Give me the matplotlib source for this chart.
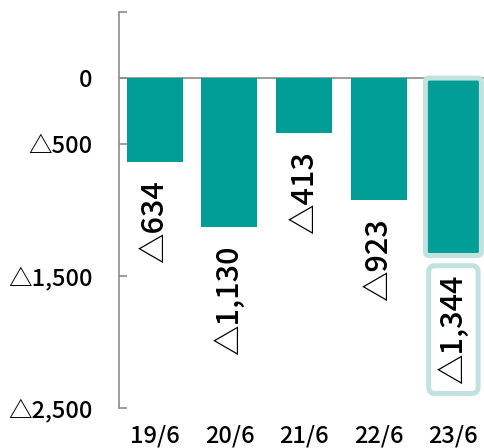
import matplotlib.pyplot as plt
from matplotlib.patches import FancyBboxPatch

years = ['19/6', '20/6', '21/6', '22/6', '23/6']
values = [-634, -1130, -413, -923, -1344]
yticks = [500, 0, -500, -1500, -2500]
ytick_labels = ['', '0', '△500', '△1,500', '△2,500']

bar_color = '#009e96'
hl_color = '#c2e2df'
plt.rcParams['font.family'] = ['Noto Sans CJK JP', 'DejaVu Sans']
plt.rcParams['font.weight'] = 'medium'


def fmt(v):
    return '△{:,}'.format(abs(v))


fig = plt.figure(figsize=(4.84, 4.48), dpi=100)
ax = fig.add_axes([0.2459, 0.0893, 0.7541, 0.8837])

x = list(range(len(years)))
ax.bar(x, values, width=0.75, color=bar_color, zorder=2)
ax.axhline(0, color='#8c8c8c', lw=1.2, zorder=1)

ax.set_xlim(-0.48, 4.41)
ax.set_ylim(-2500, 500)

# highlight box round the last bar
fig.canvas.draw()
bb = ax.get_window_extent()
px_x = bb.width / (4.41 + 0.48)
px_y = bb.height / 3000
w = 0.75
box = FancyBboxPatch((4 - w / 2, values[-1]), w, -values[-1],
                     boxstyle='round,pad=0,rounding_size=0.05',
                     mutation_aspect=px_x / px_y,
                     fc='none', ec=hl_color, lw=3.6, zorder=3, clip_on=False)
ax.add_patch(box)

for i, v in enumerate(values):
    kw = {}
    if i == len(values) - 1:
        kw['bbox'] = dict(boxstyle='round,pad=0.3,rounding_size=0.2',
                          fc='white', ec=hl_color, lw=3.6)
    ax.annotate(fmt(v), (i, v), xytext=(0, -14 if kw else -13),
                textcoords='offset points', ha='center', va='top',
                rotation=90, fontsize=22, zorder=4, **kw)

ax.set_xticks(x)
ax.set_xticklabels(years, fontsize=17)
ax.set_yticks(yticks)
ax.set_yticklabels(ytick_labels, fontsize=17)
ax.tick_params(axis='x', length=0, pad=12)
ax.tick_params(axis='y', direction='in', length=6, width=1.2,
               color='#8c8c8c', pad=19)

for s in ['top', 'right', 'bottom']:
    ax.spines[s].set_visible(False)
ax.spines['left'].set_color('#8c8c8c')
ax.spines['left'].set_linewidth(1.2)

fig.savefig('out.png', dpi=100)
